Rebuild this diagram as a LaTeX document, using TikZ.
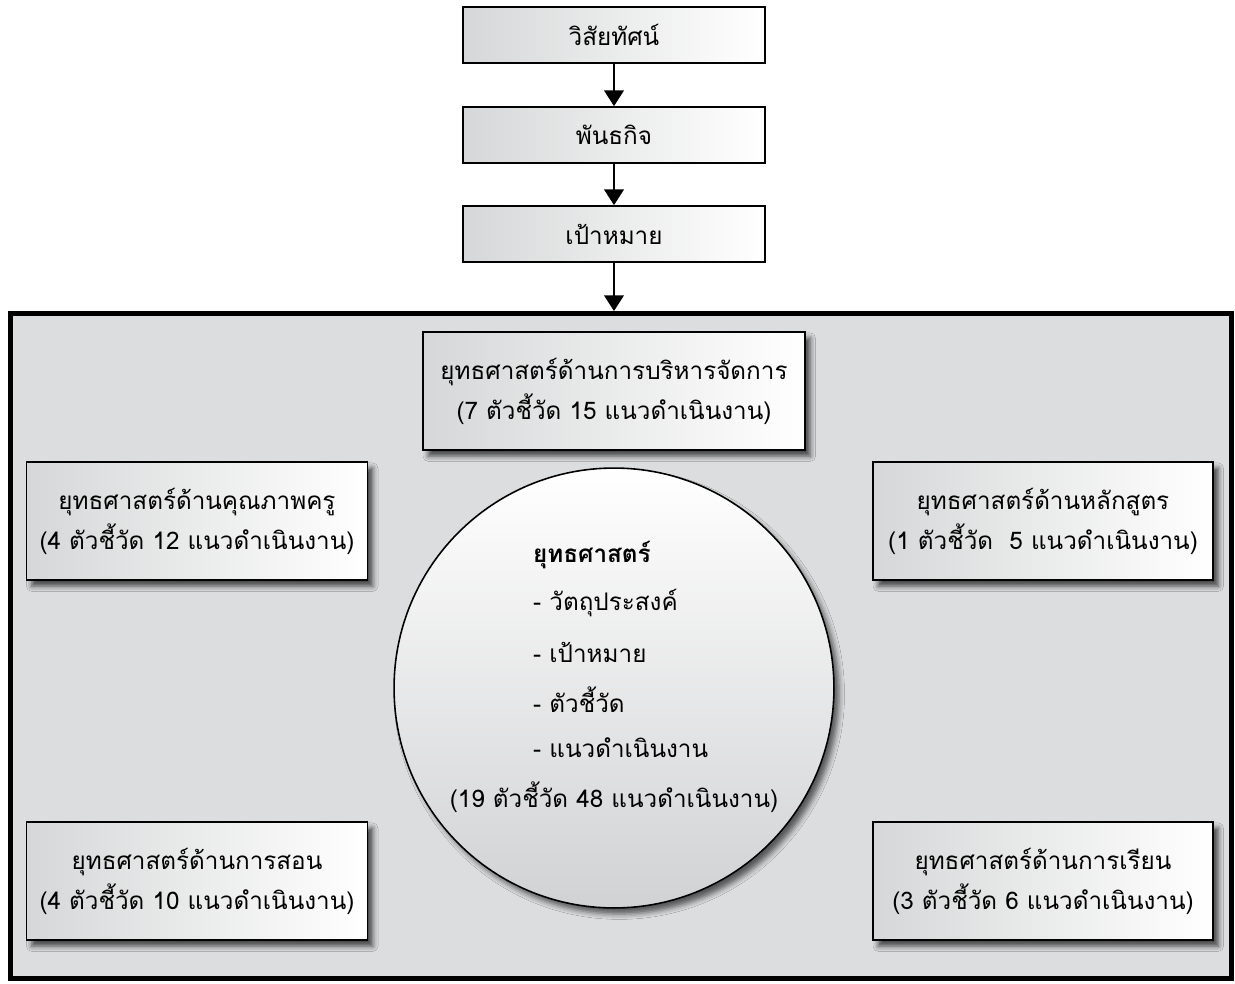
\documentclass[tikz,border=0pt]{standalone}
\usepackage{fontspec}
\setmainfont[Script=Thai]{Loma}
\usetikzlibrary{arrows.meta,shadows.blur}
\definecolor{panelgray}{HTML}{DCDDDF}
\definecolor{boxgray}{HTML}{D6D7D8}

\begin{document}
\begin{tikzpicture}[x=0.02cm,y=-0.02cm]
\tikzstyle{every node}+=[font=\fontsize{13.8}{22.7}\selectfont]
\tikzstyle{flowbox}=[draw=black, line width=0.9pt, left color=boxgray, right color=white, minimum width=6.04cm, minimum height=1.12cm, inner sep=0pt]
\tikzstyle{planbox}=[flowbox, minimum width=6.82cm, minimum height=2.36cm, align=center, blur shadow={shadow xshift=3pt, shadow yshift=-3.5pt, shadow blur radius=3pt, shadow opacity=70}]
\tikzstyle{flow}=[line width=1.7pt, -{Triangle[width=11pt,length=9pt]}]
\useasboundingbox (0,0) rectangle (1235,984);
% main panel
\node [draw=black, line width=2.8pt, fill=panelgray, minimum width=24.42cm, minimum height=13.3cm, inner sep=0pt] (panel) at (621,646) {};
% top chain
\node [flowbox] (vision) at (614,35) {วิสัยทัศน์};
\node [flowbox] (mission) at (614,135) {พันธกิจ};
\node [flowbox] (goal) at (614,234) {เป้าหมาย};
\draw [flow] (vision) -- (mission);
\draw [flow] (mission) -- (goal);
\draw [flow] (goal.south) -- (goal.south |- panel.north);
% strategy boxes
\node [planbox, minimum width=7.64cm] (manage) at (614,391) {ยุทธศาสตร์ด้านการบริหารจัดการ\\(7 ตัวชี้วัด 15 แนวดำเนินงาน)};
\node [planbox] (teacher) at (197,521) {ยุทธศาสตร์ด้านคุณภาพครู\\(4 ตัวชี้วัด 12 แนวดำเนินงาน)};
\node [planbox, minimum width=6.8cm] (course) at (1043,521) {ยุทธศาสตร์ด้านหลักสูตร\\(1 ตัวชี้วัด~~5 แนวดำเนินงาน)};
\node [planbox] (teach) at (197,881) {ยุทธศาสตร์ด้านการสอน\\(4 ตัวชี้วัด 10 แนวดำเนินงาน)};
\node [planbox, minimum width=6.8cm] (learn) at (1043,881) {ยุทธศาสตร์ด้านการเรียน\\(3 ตัวชี้วัด 6 แนวดำเนินงาน)};
% core circle
\node [circle, draw=black, line width=0.9pt, top color=white, bottom color=panelgray!95!black, minimum size=8.8cm, inner sep=0pt, blur shadow={shadow xshift=3pt, shadow yshift=-3.5pt, shadow blur radius=3pt, shadow opacity=60}] (core) at (614,688) {};
\node [anchor=west, font=\fontsize{13.8}{22.7}\selectfont\bfseries] (title) at (527,555) {ยุทธศาสตร์};
\node [anchor=west] (aim) at (527,603) {- วัตถุประสงค์};
\node [anchor=west] (target) at (527,652) {- เป้าหมาย};
\node [anchor=west] (index) at (527,700) {- ตัวชี้วัด};
\node [anchor=west] (plan) at (527,748) {- แนวดำเนินงาน};
\node (total) at (614,797) {(19 ตัวชี้วัด 48 แนวดำเนินงาน)};
\end{tikzpicture}
\end{document}
